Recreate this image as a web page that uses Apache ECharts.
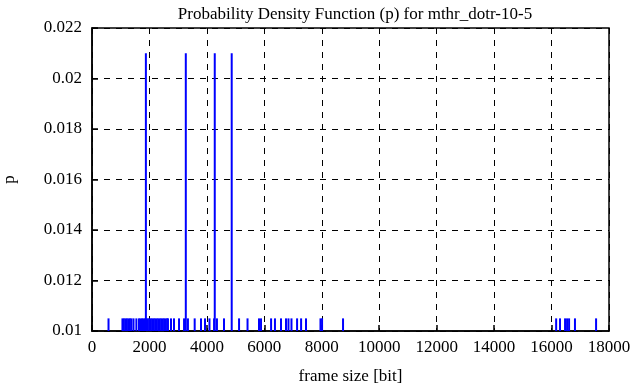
<!DOCTYPE html>
<html>
<head>
<meta charset="utf-8">
<script src="https://cdn.jsdelivr.net/npm/echarts@6/dist/echarts.min.js"></script>
<style>
html,body{margin:0;padding:0;background:#fff;}
#chart{width:636px;height:387px;}
</style>
</head>
<body>
<div id="chart"></div>
<script>
// Frame sizes (bit) where the PDF has mass
var frameSizes = [
  575,
  1060, 1110, 1165, 1215, 1270, 1320, 1370, 1445, 1545,
  1635, 1685, 1740, 1790, 1840, 1876, 1895, 1945, 1995, 2050, 2100,
  2150, 2200, 2255, 2305, 2360, 2410, 2460, 2510, 2565, 2615, 2645,
  2750, 2855, 3030, 3205, 3266, 3340, 3575, 3795, 3935, 4090,
  4250, 4274, 4350, 4595, 4864, 5120, 5415, 5815, 5885,
  6235, 6370, 6580, 6755, 6840, 6945, 7140, 7280, 7450, 7955, 8010, 8740,
  16160, 16295, 16470, 16540, 16610, 16815, 17550
];
// Probability for each frame size
var probabilities = [
  0.0105,
  0.0105, 0.0105, 0.0105, 0.0105, 0.0105, 0.0105, 0.0105, 0.0105, 0.0105,
  0.0105, 0.0105, 0.0105, 0.0105, 0.0105, 0.0210, 0.0105, 0.0105, 0.0105, 0.0105, 0.0105,
  0.0105, 0.0105, 0.0105, 0.0105, 0.0105, 0.0105, 0.0105, 0.0105, 0.0105, 0.0105, 0.0105,
  0.0105, 0.0105, 0.0105, 0.0105, 0.0210, 0.0105, 0.0105, 0.0105, 0.0105, 0.0105,
  0.0105, 0.0210, 0.0105, 0.0105, 0.0210, 0.0105, 0.0105, 0.0105, 0.0105,
  0.0105, 0.0105, 0.0105, 0.0105, 0.0105, 0.0105, 0.0105, 0.0105, 0.0105, 0.0105, 0.0105, 0.0105,
  0.0105, 0.0105, 0.0105, 0.0105, 0.0105, 0.0105, 0.0105
];
var xTicks = [0, 2000, 4000, 6000, 8000, 10000, 12000, 14000, 16000, 18000];
var yTicks = [0.01, 0.012, 0.014, 0.016, 0.018, 0.02, 0.022];

var FONT = '"Liberation Serif", "DejaVu Serif", serif';
var data = frameSizes.map(function (s, i) { return [s, probabilities[i]]; });

var chart = echarts.init(document.getElementById('chart'));
chart.setOption({
  animation: false,
  backgroundColor: '#fff',
  title: {
    text: 'Probability Density Function (p) for mthr_dotr-10-5',
    left: 350, top: 1, textAlign: 'center',
    textStyle: { fontFamily: FONT, fontWeight: 'normal', fontSize: 17, color: '#000' }
  },
  grid: { left: 92, right: 27, top: 28, bottom: 56, outerBoundsMode: 'none', containLabel: false,
          show: true, borderColor: '#000', borderWidth: 1.5, backgroundColor: 'transparent' },
  xAxis: {
    type: 'value', min: xTicks[0], max: xTicks[xTicks.length - 1], interval: 2000,
    name: 'frame size [bit]', nameLocation: 'middle', nameGap: 37,
    nameTextStyle: { fontFamily: FONT, fontSize: 17, color: '#000' },
    axisLine: { show: true, lineStyle: { color: '#000', width: 1.5 } },
    axisTick: { show: true, inside: true, length: 6, lineStyle: { color: '#000', width: 1.5 } },
    axisLabel: { fontFamily: FONT, fontSize: 17, color: '#000', margin: 8,
      formatter: function (v) { return String(v); } },
    splitLine: { show: true, lineStyle: { color: '#000', type: [6, 6], width: 1 } }
  },
  yAxis: {
    type: 'value', min: yTicks[0], max: yTicks[yTicks.length - 1], interval: 0.002,
    name: 'p', nameLocation: 'middle', nameGap: 74,
    nameTextStyle: { fontFamily: FONT, fontSize: 17, color: '#000' },
    axisLine: { show: true, lineStyle: { color: '#000', width: 1.5 } },
    axisTick: { show: true, inside: true, length: 6, lineStyle: { color: '#000', width: 1.5 } },
    axisLabel: {
      fontFamily: FONT, fontSize: 17, color: '#000', margin: 10,
      formatter: function (v) { return String(parseFloat(v.toFixed(3))); }
    },
    splitLine: { show: true, lineStyle: { color: '#000', type: [6, 6], width: 1 } }
  },
  series: [{
    type: 'custom',
    data: data,
    clip: true,
    renderItem: function (params, api) {
      var x = api.value(0), y = api.value(1);
      var p0 = api.coord([x, yTicks[0]]);
      var p1 = api.coord([x, y]);
      return {
        type: 'line',
        shape: { x1: p0[0], y1: p0[1], x2: p1[0], y2: p1[1] },
        style: { stroke: '#0000ff', lineWidth: 2 }
      };
    }
  }]
});
</script>
</body>
</html>
